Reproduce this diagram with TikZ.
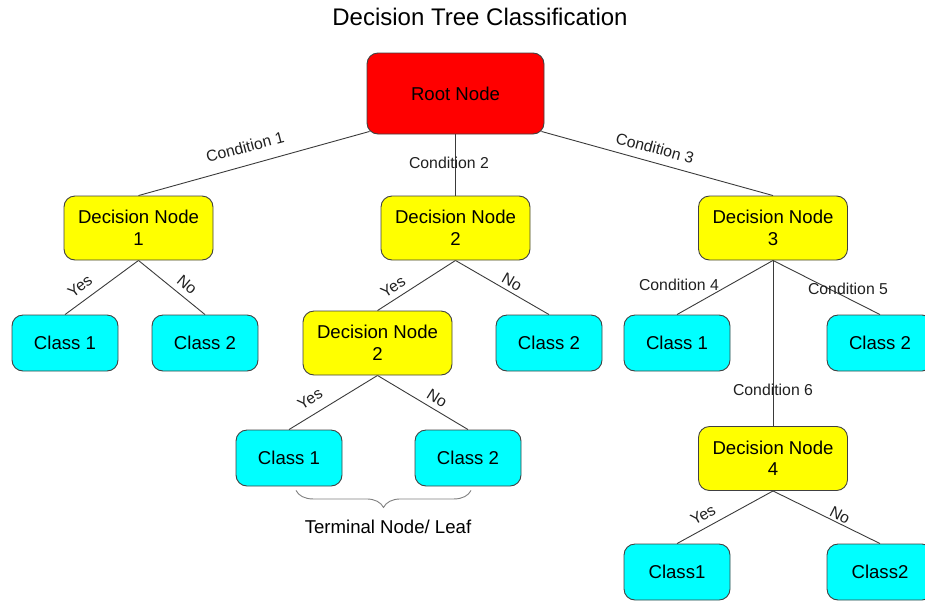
\documentclass[tikz,border=0pt]{standalone}
\usepackage{fontspec}
\setmainfont{Liberation Sans}
\usetikzlibrary{backgrounds,decorations.pathreplacing}
\definecolor{edgec}{HTML}{3A3A3A}
\definecolor{borderc}{HTML}{404040}
\definecolor{lblc}{HTML}{202020}
\definecolor{rootc}{RGB}{255,0,0}
\definecolor{decc}{RGB}{255,255,0}
\definecolor{classc}{RGB}{0,255,255}
\definecolor{bracec}{HTML}{808080}
\tikzset{
  box/.style={draw=borderc, line width=0.9pt, rounded corners=11pt, align=center, inner sep=0pt, font=\fontsize{18.6}{21.5}\selectfont},
  rootbox/.style={box, fill=rootc, minimum width=177pt, minimum height=81pt},
  decbox/.style={box, fill=decc, minimum width=149pt, minimum height=64pt},
  classbox/.style={box, fill=classc, minimum width=106pt, minimum height=56pt},
  edge/.style={draw=edgec, line width=0.9pt},
  lbl/.style={font=\fontsize{15.8}{18}\selectfont, text=lblc, inner sep=0pt},
}
\begin{document}
\begin{tikzpicture}[x=1pt,y=-1pt]
\useasboundingbox (0,0) rectangle (925,600);
\clip (0,0) rectangle (925,600);
\node[font=\fontsize{24}{28}\selectfont] (title) at (480,17) {Decision Tree Classification};
\node[rootbox] (root) at (455.5,93.5) {Root Node};
\node[decbox] (dn1) at (138.5,228) {Decision Node\\1};
\node[decbox] (dn2) at (455.5,228) {Decision Node\\2};
\node[decbox] (dn3) at (773,228) {Decision Node\\3};
\node[classbox] (c11) at (65,343) {Class 1};
\node[classbox] (c12) at (205,343) {Class 2};
\node[decbox] (dn2b) at (377.5,343) {Decision Node\\2};
\node[classbox] (c22) at (549,343) {Class 2};
\node[classbox] (c31) at (677,343) {Class 1};
\node[classbox] (c32) at (880,343) {Class 2};
\node[classbox] (c21) at (289,458) {Class 1};
\node[classbox] (c23) at (468,458) {Class 2};
\node[decbox] (dn4) at (773,458.5) {Decision Node\\4};
\node[classbox] (c41) at (677,572) {Class1};
\node[classbox] (c42) at (880,572) {Class2};
\begin{scope}[on background layer]
\draw[edge] ([shift={(3pt,3pt)}]root.south west) -- (dn1.north);
\draw[edge] (root.south) -- (dn2.north);
\draw[edge] ([shift={(-3pt,3pt)}]root.south east) -- (dn3.north);
\draw[edge] (dn1.south) -- (c11.north);
\draw[edge] (dn1.south) -- (c12.north);
\draw[edge] (dn2.south) -- (dn2b.north);
\draw[edge] (dn2.south) -- (c22.north);
\draw[edge] (dn3.south) -- (c31.north);
\draw[edge] (dn3.south) -- (c32.north);
\draw[edge] (dn3.south) -- (dn4.north);
\draw[edge] (dn2b.south) -- (c21.north);
\draw[edge] (dn2b.south) -- (c23.north);
\draw[edge] (dn4.south) -- (c41.north);
\draw[edge] (dn4.south) -- (c42.north);
\end{scope}
\node[lbl, rotate=15] (l1) at (245,147) {Condition 1};
\node[lbl] (l2) at (449,163) {Condition 2};
\node[lbl, rotate=-15] (l3) at (655,148) {Condition 3};
\node[lbl, rotate=37] (y1) at (80,286) {Yes};
\node[lbl, rotate=-40] (n1) at (187,285) {No};
\node[lbl, rotate=33] (y2) at (393,287) {Yes};
\node[lbl, rotate=-30] (n2) at (512,282) {No};
\node[lbl, rotate=32] (y3) at (310,399) {Yes};
\node[lbl, rotate=-32] (n3) at (437,398) {No};
\node[lbl] (l4) at (679,285) {Condition 4};
\node[lbl] (l5) at (848,289) {Condition 5};
\node[lbl] (l6) at (773,390) {Condition 6};
\node[lbl, rotate=29] (y4) at (703,515) {Yes};
\node[lbl, rotate=-27] (n4) at (840,515) {No};
\coordinate (braceR) at ([xshift=3pt,yshift=-4pt]c23.south);
\coordinate (braceL) at ([xshift=7pt,yshift=-4pt]c21.south);
\draw[draw=bracec, line width=0.9pt, decorate, decoration={brace, amplitude=17pt}]
  (braceR) -- (braceL);
\node[font=\fontsize{18.6}{21.5}\selectfont] (term) at (388,527) {Terminal Node/ Leaf};
\end{tikzpicture}
\end{document}
